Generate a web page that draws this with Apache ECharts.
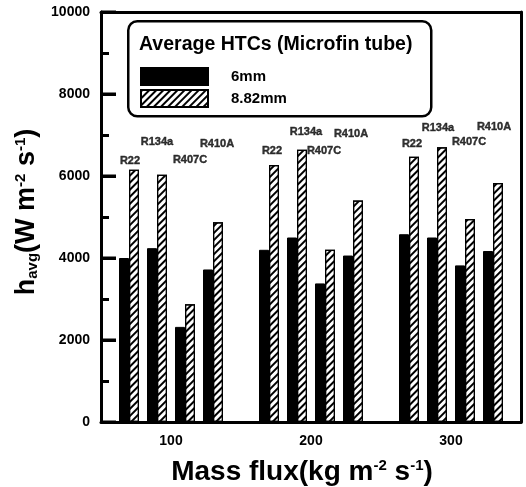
<!DOCTYPE html>
<html>
<head>
<meta charset="utf-8">
<script src="https://cdn.jsdelivr.net/npm/echarts@6/dist/echarts.min.js"></script>
<style>html,body{margin:0;padding:0;background:#fff;}#c{width:526px;height:487px;}</style>
</head>
<body>
<div id="c"></div>
<script>
// ---- data ----
const massFlux = [100, 200, 300];
const refrigerants = ['R22', 'R134a', 'R407C', 'R410A'];
const seriesNames = ['6mm', '8.82mm'];
// rows: mass flux 100, 200, 300; columns: R22, R134a, R407C, R410A
const htc6mm = [
  [4000, 4240, 2320, 3720],
  [4200, 4500, 3380, 4060],
  [4580, 4500, 3820, 4170]
];
const htc882mm = [
  [6150, 6030, 2870, 4870],
  [6270, 6640, 4200, 5400],
  [6470, 6700, 4950, 5830]
];
const yTickValues = [0, 2000, 4000, 6000, 8000, 10000];
const legendTitle = 'Average HTCs (Microfin tube)';

// ---- layout (not data) ----
const slot = 20; // x-axis units between refrigerant pairs
const labelLevel = [
  [6375, 6820, 6400, 6790],
  [6600, 7065, 6620, 7030],
  [6790, 7160, 6820, 7185]
];
const labelDx = [
  [1, 0, 5, 4],
  [3, 9, -1, -2],
  [3, 1, 4, 1]
];

const FONT = 'Liberation Sans, Arial, Helvetica, sans-serif';
const xPos = (i, j) => massFlux[i] + (j - 1.5) * slot;

function barData(arr) {
  const out = [];
  arr.forEach((row, i) => row.forEach((v, j) => out.push([xPos(i, j), v])));
  return out;
}
const labelData = [];
massFlux.forEach((m, i) => refrigerants.forEach((r, j) => {
  labelData.push({ name: r, value: [xPos(i, j), labelLevel[i][j]], label: { offset: [labelDx[i][j], 0] } });
}));

const hatch = {
  symbol: 'rect', symbolSize: 1, color: '#000',
  dashArrayX: [[1, 0]], dashArrayY: [1.2, 3], rotation: -Math.PI / 4
};
const frameLine = { show: true, onZero: false, lineStyle: { color: '#000', width: 3 } };

const yMin = yTickValues[0], yMax = yTickValues[yTickValues.length - 1];
const yStep = yTickValues[1] - yTickValues[0];

const chart = echarts.init(document.getElementById('c'), null, { renderer: 'canvas' });
chart.setOption({
  animation: false,
  backgroundColor: '#fff',
  grid: { left: 101, right: 5, top: 12, bottom: 65, show: false, containLabel: false, outerBoundsMode: 'none' },
  title: {
    text: legendTitle, left: 139, top: 35, z: 10, padding: 0,
    textStyle: { fontFamily: FONT, fontWeight: 'bold', fontSize: 19.5, color: '#000' }
  },
  graphic: [{
    type: 'rect', z: 8, left: 127, top: 20,
    shape: { width: 303, height: 95, r: 9 },
    style: { fill: '#fff', stroke: '#000', lineWidth: 2.5 }
  }],
  legend: {
    data: seriesNames, orient: 'vertical', left: 140, top: 67, z: 10, padding: 0,
    itemWidth: 67, itemHeight: 17, itemGap: 3, icon: 'rect',
    textStyle: { fontFamily: FONT, fontWeight: 'bold', fontSize: 15, color: '#000', padding: [0, 0, 0, 18] }
  },
  xAxis: [{
    type: 'value', min: 50, max: 350, interval: 50, position: 'bottom',
    axisLine: frameLine, axisTick: { show: false }, splitLine: { show: false },
    axisLabel: {
      margin: 12, fontFamily: FONT, fontWeight: 'bold', fontSize: 14, color: '#000',
      formatter: v => massFlux.indexOf(v) >= 0 ? String(v) : ''
    },
    name: 'Mass flux(kg m{sup|-2} s{sup|-1})', nameLocation: 'middle', nameGap: 36,
    nameTextStyle: {
      fontFamily: FONT, fontWeight: 'bold', fontSize: 28, color: '#000', padding: [0, 18, 0, 0],
      rich: { sup: { fontFamily: FONT, fontWeight: 'bold', fontSize: 15, color: '#000', verticalAlign: 'top', lineHeight: 15 } }
    }
  }, {
    type: 'value', min: 50, max: 350, interval: 50, position: 'top',
    axisLine: frameLine, axisTick: { show: false }, axisLabel: { show: false }, splitLine: { show: false }
  }],
  yAxis: [{
    type: 'value', min: yMin, max: yMax, interval: yStep, position: 'left',
    axisLine: frameLine,
    axisTick: { show: true, inside: true, length: 15, lineStyle: { color: '#000', width: 3 } },
    minorTick: { show: true, splitNumber: 2, length: 8, lineStyle: { color: '#000', width: 3 } },
    splitLine: { show: false },
    axisLabel: { margin: 11, fontFamily: FONT, fontWeight: 'bold', fontSize: 14, color: '#000', formatter: v => String(v) },
    name: 'h{sub|avg}(W m{sup|-2} s{sup|-1})', nameLocation: 'middle', nameGap: 57,
    nameTextStyle: {
      fontFamily: FONT, fontWeight: 'bold', fontSize: 27, color: '#000', padding: [0, 0, 0, 10],
      rich: {
        sup: { fontFamily: FONT, fontWeight: 'bold', fontSize: 15, color: '#000', verticalAlign: 'top', lineHeight: 15 },
        sub: { fontFamily: FONT, fontWeight: 'bold', fontSize: 15, color: '#000', verticalAlign: 'bottom', lineHeight: 12 }
      }
    }
  }, {
    type: 'value', min: yMin, max: yMax, interval: yStep, position: 'right',
    axisLine: frameLine, axisTick: { show: false }, axisLabel: { show: false }, splitLine: { show: false }
  }],
  series: [
    {
      name: seriesNames[0], type: 'bar', barWidth: 10, barGap: '0%',
      data: barData(htc6mm),
      itemStyle: { color: '#000', borderColor: '#000', borderWidth: 1 }
    },
    {
      name: seriesNames[1], type: 'bar', barWidth: 10, barGap: '0%',
      data: barData(htc882mm),
      itemStyle: { color: '#fff', borderColor: '#000', borderWidth: 1.2, decal: hatch }
    },
    {
      name: 'labels', type: 'scatter', symbolSize: 0, silent: true,
      data: labelData,
      label: {
        show: true, position: 'inside', formatter: p => p.name,
        fontFamily: FONT, fontWeight: 'bold', fontSize: 11, color: '#000',
        textBorderColor: '#000', textBorderWidth: 0.4
      },
      z: 6
    },
    {
      // long inner major ticks on the left axis, drawn through the axes' own scales
      name: 'majorTicks', type: 'custom', silent: true, z: 7, clip: false,
      data: yTickValues.map(v => [50, v]),
      renderItem: function (params, api) {
        const p = api.coord([api.value(0), api.value(1)]);
        return { type: 'rect', shape: { x: p[0], y: p[1] - 1.5, width: 15, height: 3 }, style: { fill: '#000' } };
      }
    }
  ]
});
</script>
</body>
</html>
